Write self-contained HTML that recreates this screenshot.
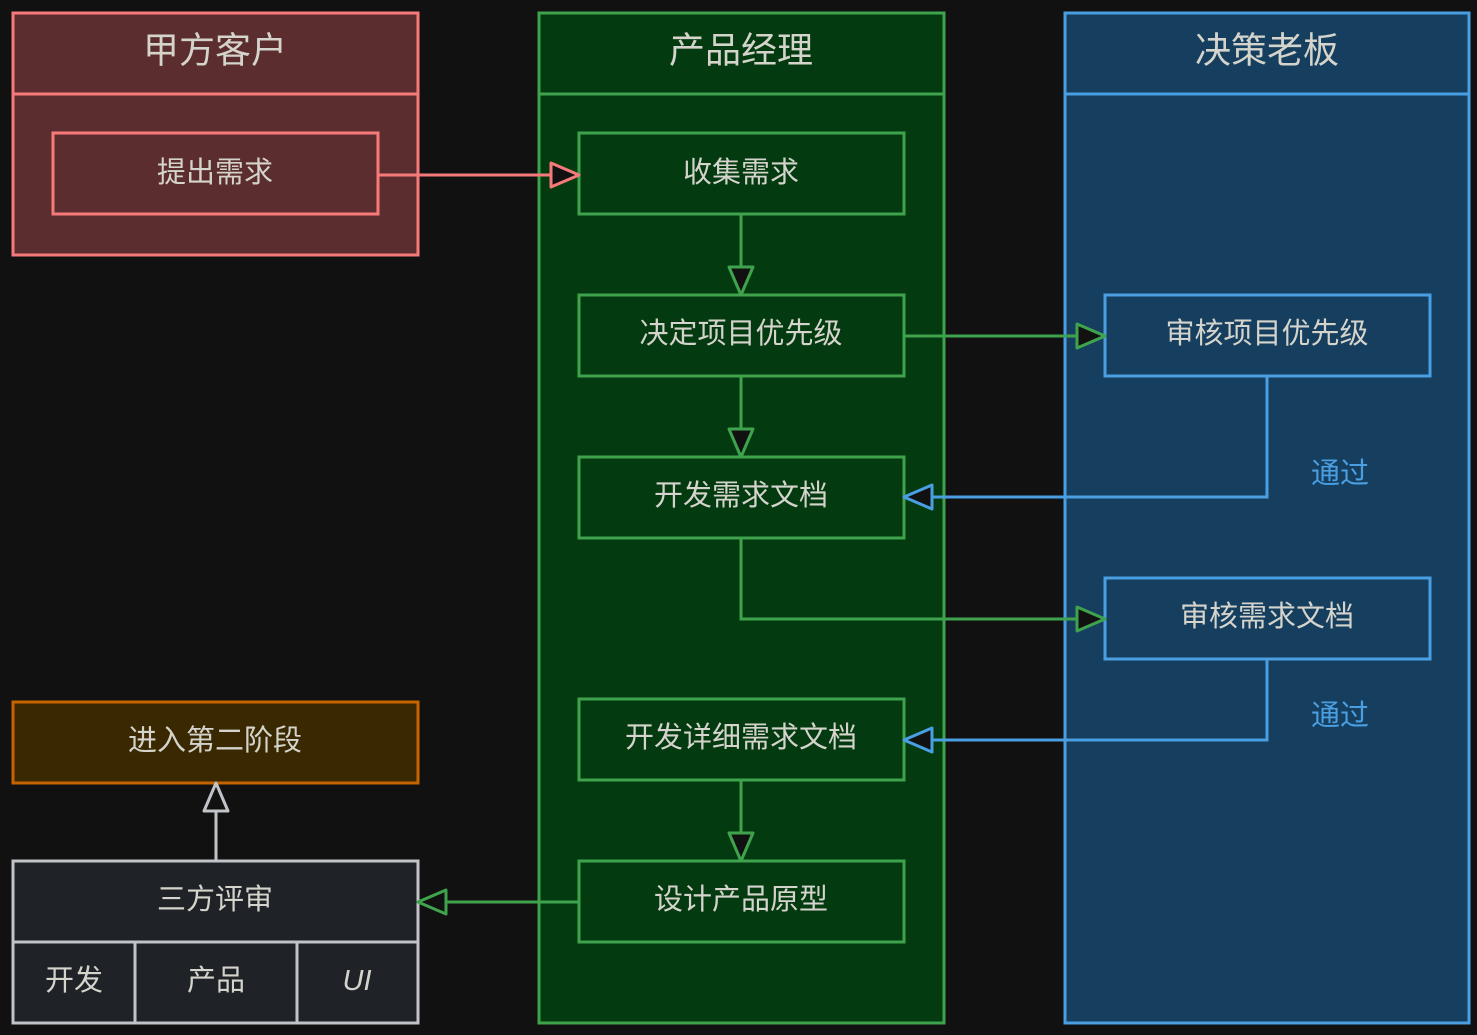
<!DOCTYPE html>
<html><head><meta charset="utf-8"><style>
html,body{margin:0;padding:0;background:#111111;}
svg{display:block;}
text{font-family:"Liberation Sans","Noto Sans CJK SC",sans-serif;fill:#d4d4cc;text-anchor:middle;dominant-baseline:central;}
</style></head><body>
<svg width="1477" height="1035" viewBox="0 0 1477 1035" xmlns="http://www.w3.org/2000/svg">
<rect x="0" y="0" width="1477" height="1035" fill="#111111"/>
<g stroke-width="3">
<!-- red lane -->
<rect x="13" y="13" width="405" height="242" fill="#5c2d2e" stroke="#f77a7a"/>
<line x1="13" y1="94" x2="418" y2="94" stroke="#f77a7a"/>
<rect x="53" y="133" width="325" height="81" fill="#5c2d2e" stroke="#f77a7a"/>
<!-- green lane -->
<rect x="539" y="13" width="405" height="1010" fill="#043a10" stroke="#3fa34d"/>
<line x1="539" y1="94" x2="944" y2="94" stroke="#3fa34d"/>
<rect x="579" y="133" width="325" height="81" fill="#043a10" stroke="#3fa34d"/>
<rect x="579" y="295" width="325" height="81" fill="#043a10" stroke="#3fa34d"/>
<rect x="579" y="457" width="325" height="81" fill="#043a10" stroke="#3fa34d"/>
<rect x="579" y="699" width="325" height="81" fill="#043a10" stroke="#3fa34d"/>
<rect x="579" y="861" width="325" height="81" fill="#043a10" stroke="#3fa34d"/>
<!-- blue lane -->
<rect x="1065" y="13" width="404" height="1010" fill="#163f5f" stroke="#4a9ee2"/>
<line x1="1065" y1="94" x2="1469" y2="94" stroke="#4a9ee2"/>
<rect x="1105" y="295" width="325" height="81" fill="#163f5f" stroke="#4a9ee2"/>
<rect x="1105" y="578" width="325" height="81" fill="#163f5f" stroke="#4a9ee2"/>
<!-- orange -->
<rect x="13" y="702" width="405" height="81" fill="#3a2800" stroke="#c86400"/>
<!-- gray -->
<rect x="13" y="861" width="405" height="162" fill="#1f2327" stroke="#c0c4c8"/>
<line x1="13" y1="942" x2="418" y2="942" stroke="#c0c4c8"/>
<line x1="135" y1="942" x2="135" y2="1023" stroke="#c0c4c8"/>
<line x1="297" y1="942" x2="297" y2="1023" stroke="#c0c4c8"/>
<!-- connectors -->
<g fill="none">
<polyline points="378,175 552,175" stroke="#f77a7a"/>
<polyline points="741,214 741,268" stroke="#3fa34d"/>
<polyline points="741,376 741,430" stroke="#3fa34d"/>
<polyline points="741,780 741,834" stroke="#3fa34d"/>
<polyline points="904,336 1078,336" stroke="#3fa34d"/>
<polyline points="741,538 741,619 1078,619" stroke="#3fa34d"/>
<polyline points="579,902 446,902" stroke="#3fa34d"/>
<polyline points="1267,376 1267,497 931,497" stroke="#4a9ee2"/>
<polyline points="1267,659 1267,740 931,740" stroke="#4a9ee2"/>
<polyline points="216,861 216,811" stroke="#c0c4c8"/>
</g>
<g fill="#111111" stroke-linejoin="round">
<polygon points="579,175 551,163 551,187" stroke="#f77a7a"/>
<polygon points="741,295 729,267 753,267" stroke="#3fa34d"/>
<polygon points="741,457 729,429 753,429" stroke="#3fa34d"/>
<polygon points="741,861 729,833 753,833" stroke="#3fa34d"/>
<polygon points="1105,336 1077,324 1077,348" stroke="#3fa34d"/>
<polygon points="1105,619 1077,607 1077,631" stroke="#3fa34d"/>
<polygon points="418,902 446,890 446,914" stroke="#3fa34d"/>
<polygon points="904,497 932,485 932,509" stroke="#4a9ee2"/>
<polygon points="904,740 932,728 932,752" stroke="#4a9ee2"/>
<polygon points="216,783 204,811 228,811" stroke="#c0c4c8"/>
</g>
</g>
<g font-size="36">
<text x="215" y="50">甲方客户</text>
<text x="741" y="50">产品经理</text>
<text x="1267" y="50">决策老板</text>
</g>
<g font-size="29">
<text x="215" y="173">提出需求</text>
<text x="741" y="173">收集需求</text>
<text x="741" y="334">决定项目优先级</text>
<text x="741" y="496">开发需求文档</text>
<text x="741" y="738">开发详细需求文档</text>
<text x="741" y="900">设计产品原型</text>
<text x="1267" y="334">审核项目优先级</text>
<text x="1267" y="617">审核需求文档</text>
<text x="215" y="741">进入第二阶段</text>
<text x="215" y="900">三方评审</text>
<text x="74" y="981">开发</text>
<text x="216" y="981">产品</text>
<text x="357" y="981" font-style="italic">UI</text>
<text x="1340" y="474" style="fill:#4a9ee2">通过</text>
<text x="1340" y="716" style="fill:#4a9ee2">通过</text>
</g>
</svg>
</body></html>
